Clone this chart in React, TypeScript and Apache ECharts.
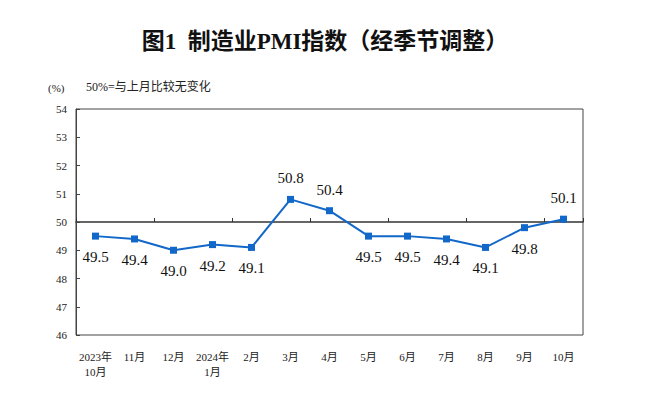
import React, { useEffect, useRef } from "react";
import * as echarts from "echarts";

const categories = ["2023年\n10月", "11月", "12月", "2024年\n1月", "2月", "3月", "4月", "5月", "6月", "7月", "8月", "9月", "10月"];
const pmiValues = [49.5, 49.4, 49.0, 49.2, 49.1, 50.8, 50.4, 49.5, 49.5, 49.4, 49.1, 49.8, 50.1];
const yTicks = { min: 46, max: 54, interval: 1 };
const titleText = "图1  制造业PMI指数（经季节调整）";
const unitText = "(%)";
const noteText = "50%=与上月比较无变化";

const FONT = "'Liberation Serif', 'Noto Sans CJK SC', serif";

export default function App() {
  const ref = useRef<HTMLDivElement>(null);
  useEffect(() => {
    if (!ref.current) return;
    const chart = echarts.init(ref.current, null, { renderer: "svg" });
    const gridTop = 109;
    const gridHeight = 226;
    const midOffset = -gridHeight * ((50 - yTicks.min) / (yTicks.max - yTicks.min));
    chart.setOption({
      animation: false,
      backgroundColor: "#ffffff",
      textStyle: { fontFamily: FONT },
      title: {
        text: titleText,
        left: "center",
        top: 25,
        textStyle: { fontFamily: FONT, fontSize: 23, fontWeight: "bold", color: "#111" },
      },
      graphic: [
        { type: "text", left: 48, top: 82, style: { text: unitText, font: `11px ${FONT}`, fill: "#222" } },
        { type: "text", left: 86, top: 81, style: { text: noteText, font: `12px ${FONT}`, fill: "#222" } },
      ],
      grid: { left: 76, width: 507, top: gridTop, height: gridHeight, show: true, borderColor: "#444", borderWidth: 1 },
      xAxis: [
        {
          type: "category",
          data: categories,
          boundaryGap: true,
          position: "bottom",
          axisLine: { show: false },
          axisTick: { show: false },
          axisLabel: { color: "#222", fontSize: 11, fontFamily: FONT, margin: 14, lineHeight: 15, interval: 0 },
        },
        {
          type: "category",
          data: categories,
          boundaryGap: true,
          position: "bottom",
          offset: midOffset,
          axisLine: { show: true, lineStyle: { color: "#333", width: 1.5 } },
          axisTick: { show: true, inside: true, length: 4, lineStyle: { color: "#333" } },
          axisLabel: { show: false },
        },
      ],
      yAxis: {
        type: "value",
        min: yTicks.min,
        max: yTicks.max,
        interval: yTicks.interval,
        axisLine: { show: true, lineStyle: { color: "#444" } },
        axisTick: { show: true, inside: true, length: 4, lineStyle: { color: "#444" } },
        axisLabel: { color: "#222", fontSize: 11, fontFamily: FONT, margin: 9 },
        splitLine: { show: false },
      },
      series: [
        {
          type: "line",
          xAxisIndex: 0,
          data: pmiValues.map((v) => ({
            value: v,
            label: { position: v >= 50 ? "top" : "bottom" },
          })),
          symbol: "rect",
          symbolSize: 7,
          lineStyle: { color: "#1268c9", width: 2 },
          itemStyle: { color: "#1268c9" },
          label: {
            show: true,
            distance: 10,
            fontSize: 15,
            fontFamily: FONT,
            color: "#111",
            formatter: (p: any) => Number(p.value).toFixed(1),
          },
        },
      ],
    });
    return () => chart.dispose();
  }, []);
  return <div ref={ref} style={{ position: "fixed", left: 0, top: 0, width: 650, height: 405 }} />;
}
